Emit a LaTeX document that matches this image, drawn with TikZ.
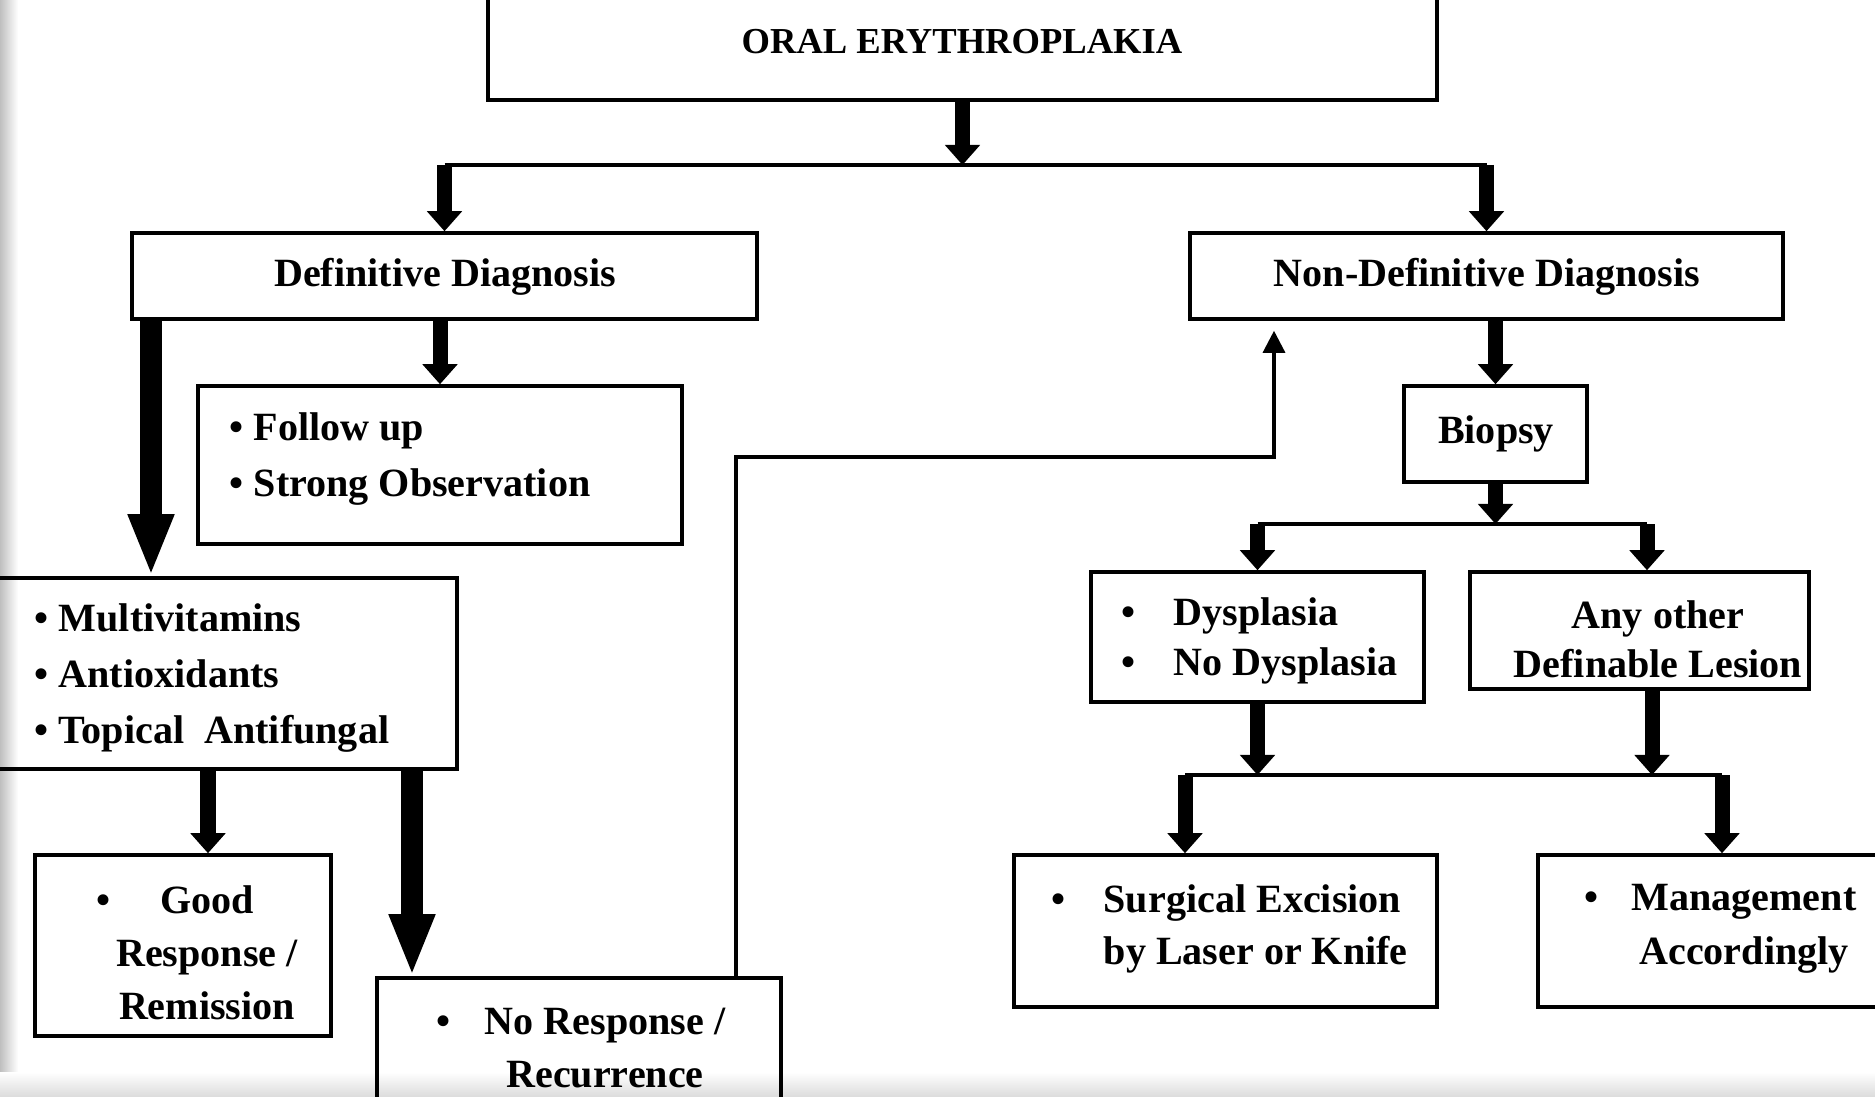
\documentclass[tikz,border=0pt]{standalone}
\usepackage{fontspec}
\setmainfont{Liberation Serif}
\usetikzlibrary{arrows.meta,calc,fit}
\tikzset{
  erybox/.style={draw,line width=1pt,inner sep=0pt},
  erytext/.style={inner sep=0pt,align=center,font=\bfseries\fontsize{11.4}{15.6}\selectfont},
  flowarrow/.style={line width=0.15cm,-{Triangle[length=0.2cm,width=0.34cm]}},
  bigarrow/.style={line width=0.22cm,-{Triangle[length=0.62cm,width=0.42cm]}},
  busline/.style={line width=1.2pt},
  backarrow/.style={line width=0.9pt,-{Triangle[length=0.22cm,width=0.22cm]}}
}
\newcommand{\erybox}[6][]{%
  \node[erybox,fit={(#3)(#4)}] (#2) {};%
  \node[erytext,#1] (#2-txt) at (#5) {#6};%
}
\newcommand{\erybul}[1]{\makebox[#1][l]{\textbullet}}

\begin{document}
\begin{tikzpicture}[x=0.01cm,y=-0.01cm]
  \useasboundingbox (0,0) rectangle (1875,1097);
  \shade[left color=black!25,right color=white] (0,0) rectangle (18,1097);
  \shade[top color=white,bottom color=black!14] (0,1072) rectangle (1875,1097);
  \erybox[font=\bfseries\fontsize{10.4}{12}\selectfont]{title}{488,-10}{1437,100}{962,42}{ORAL ERYTHROPLAKIA}
  \erybox{defdiag}{132,233}{757,319}{445,277}{Definitive Diagnosis}
  \erybox{nondef}{1190,233}{1783,319}{1487,277}{Non-Definitive Diagnosis}
  \erybox[anchor=west,align=left,font=\bfseries\fontsize{11.4}{16.2}\selectfont]{follow}{198,386}{682,544}{229,459}%
    {\textbullet\ Follow up\\\textbullet\ Strong Observation}
  \erybox[anchor=west,align=left,font=\bfseries\fontsize{11.4}{15.8}\selectfont]{multi}{-5,578}{457,769}{34,678}%
    {\textbullet\ Multivitamins\\\textbullet\ Antioxidants\\\textbullet\ Topical~~Antifungal}
  \erybox[font=\bfseries\fontsize{11.4}{15.1}\selectfont]{good}{35,855}{331,1036}{207,953}%
    {\llap{\textbullet\hspace{0.5cm}}Good\\Response /\\Remission}
  \erybox[font=\bfseries\fontsize{11.4}{15.1}\selectfont]{noresp}{377,978}{781,1110}{605,1048}%
    {\llap{\textbullet\hspace{0.34cm}}No Response /\\Recurrence}
  \erybox{biopsy}{1404,386}{1587,482}{1496,434}{Biopsy}
  \erybox[anchor=west,align=left,font=\bfseries\fontsize{11.4}{14.2}\selectfont]{dysp}{1091,572}{1424,702}{1121,641}%
    {\erybul{0.52cm}Dysplasia\\\erybul{0.52cm}No Dysplasia}
  \erybox[font=\bfseries\fontsize{11.4}{14}\selectfont]{other}{1470,572}{1809,689}{1658,639}%
    {Any other\\Definable Lesion}
  \erybox[anchor=west,align=left,font=\bfseries\fontsize{11.4}{14.8}\selectfont]{surg}{1014,855}{1437,1007}{1051,929}%
    {\erybul{0.52cm}Surgical Excision\\\hspace*{0.52cm}by Laser or Knife}
  \erybox[font=\bfseries\fontsize{11.4}{15.4}\selectfont]{manage}{1538,855}{1890,1007}{1744,929}%
    {\llap{\textbullet\hspace{0.33cm}}Management\\Accordingly}
  % first split
  \coordinate (lvlone) at (0,165);
  \draw[flowarrow] (title.south) -- (title.south |- lvlone);
  \draw[busline] (defdiag.north |- lvlone) -- (nondef.north |- lvlone);
  \draw[flowarrow] (defdiag.north |- lvlone) -- (defdiag.north);
  \draw[flowarrow] (nondef.north |- lvlone) -- (nondef.north);
  % definitive side
  \draw[flowarrow] (defdiag.south -| follow.north) -- (follow.north);
  \coordinate (bigone) at (151,0);
  \draw[bigarrow] (defdiag.south -| bigone) -- (multi.north -| bigone);
  \coordinate (goodx) at (208,0);
  \draw[flowarrow] (multi.south -| goodx) -- (good.north -| goodx);
  \coordinate (bigtwo) at (412,0);
  \draw[bigarrow] (multi.south -| bigtwo) -- (noresp.north -| bigtwo);
  \coordinate (backA) at (736,457);
  \coordinate (backB) at (1274,457);
  \coordinate (backtip) at ([yshift=-0.1cm]nondef.south);
  \draw[backarrow] (noresp.north -| backA) -- (backA) -- (backB) -- (backtip -| backB);
  % non-definitive side
  \draw[flowarrow] (nondef.south -| biopsy.north) -- (biopsy.north);
  \coordinate (lvltwo) at (0,524);
  \coordinate (otherx) at (1647,0);
  \draw[flowarrow] (biopsy.south) -- (biopsy.south |- lvltwo);
  \draw[busline] (dysp.north |- lvltwo) -- (otherx |- lvltwo);
  \draw[flowarrow] (dysp.north |- lvltwo) -- (dysp.north);
  \draw[flowarrow] (otherx |- lvltwo) -- (other.north -| otherx);
  \coordinate (lvlthree) at (0,775);
  \coordinate (otherdown) at (1652,0);
  \coordinate (surgx) at (1185,0);
  \coordinate (managex) at (1722,0);
  \draw[flowarrow] (dysp.south) -- (dysp.south |- lvlthree);
  \draw[flowarrow] (other.south -| otherdown) -- (otherdown |- lvlthree);
  \draw[busline] (surgx |- lvlthree) -- (managex |- lvlthree);
  \draw[flowarrow] (surgx |- lvlthree) -- (surg.north -| surgx);
  \draw[flowarrow] (managex |- lvlthree) -- (manage.north -| managex);
\end{tikzpicture}
\end{document}
